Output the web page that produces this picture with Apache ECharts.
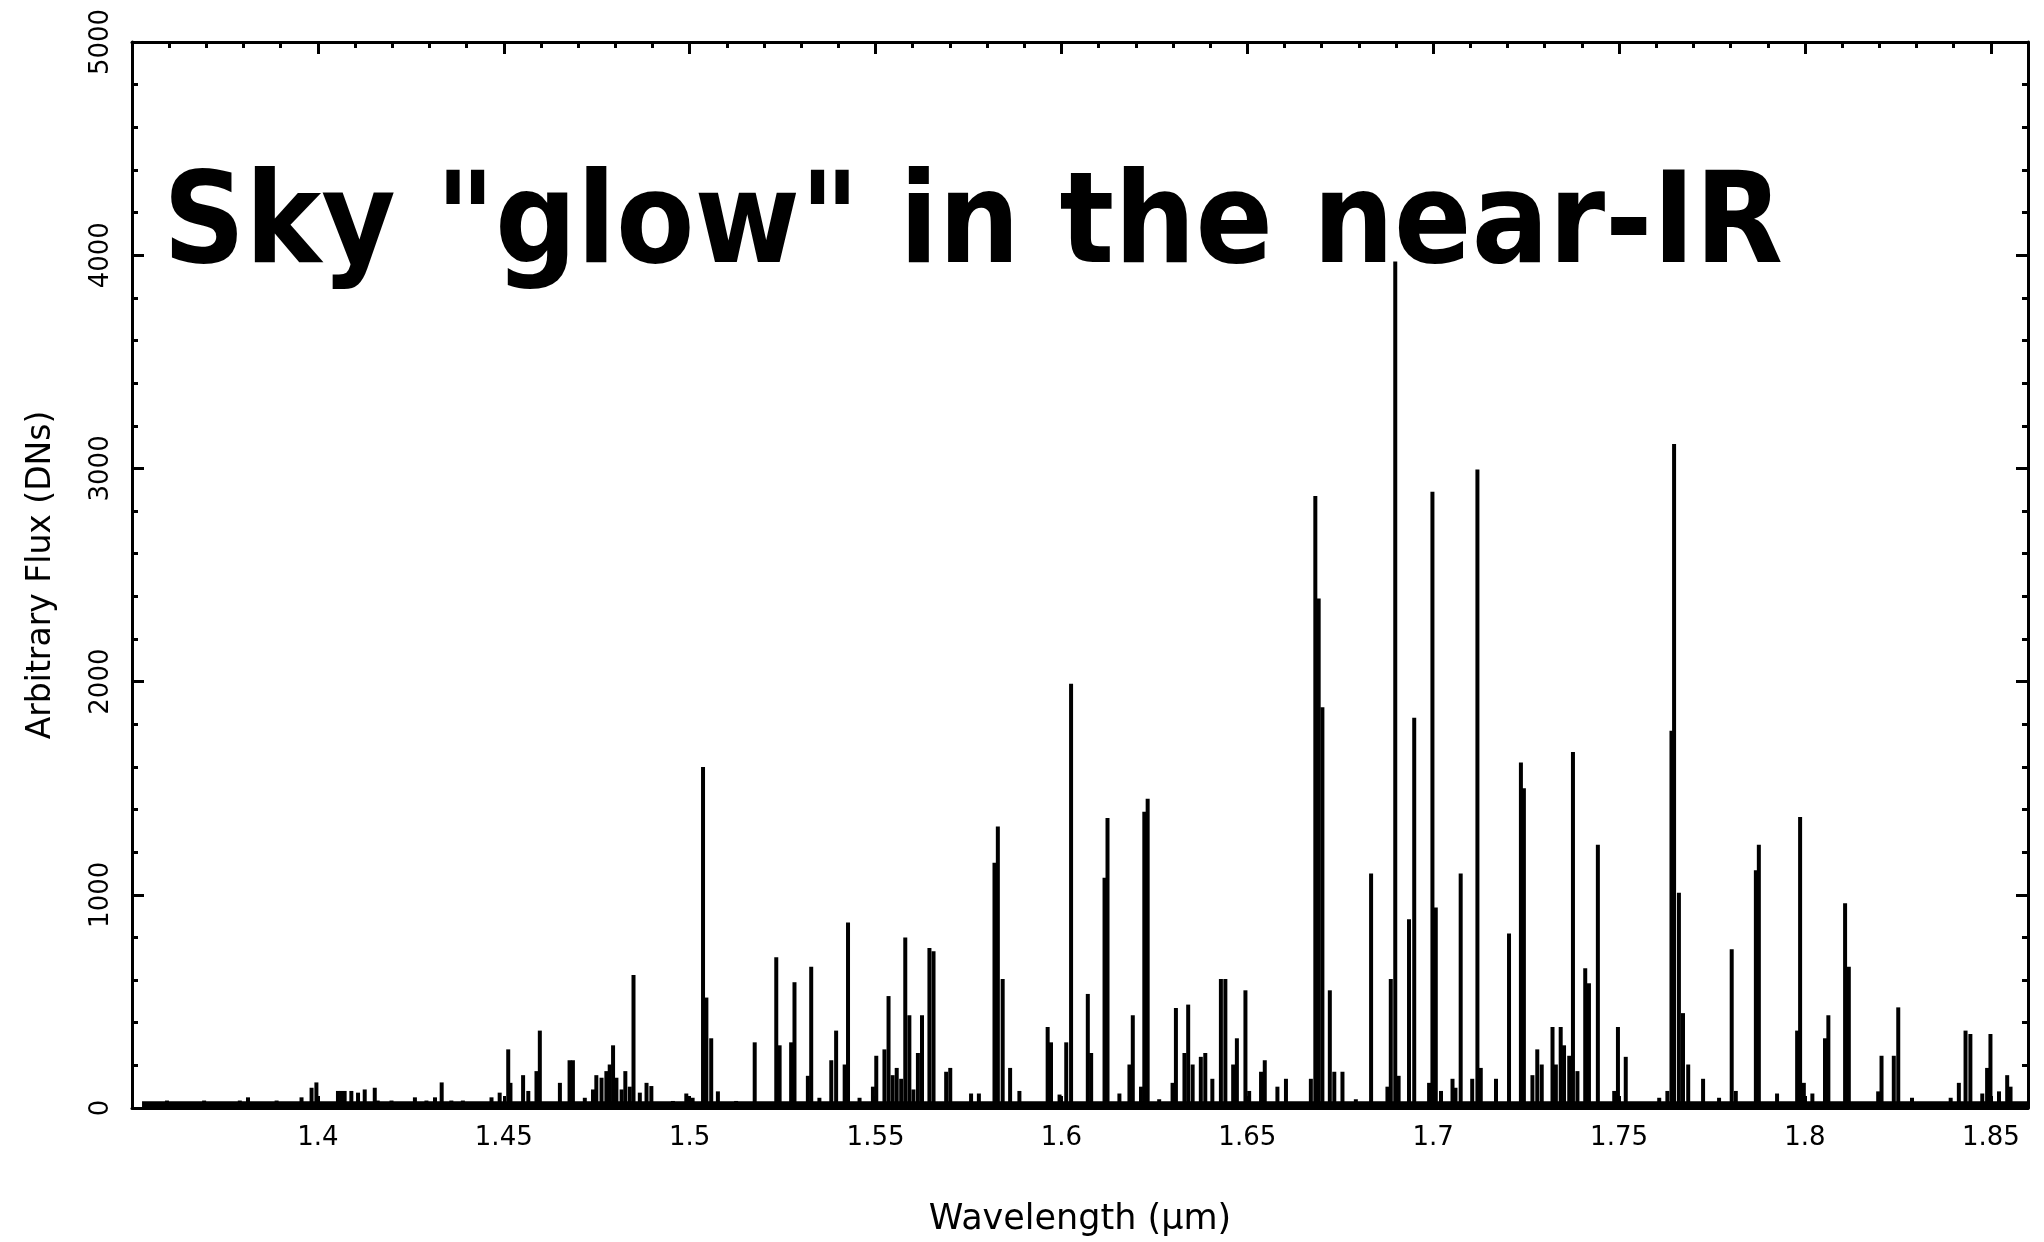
<!DOCTYPE html>
<html>
<head>
<meta charset="utf-8">
<script src="https://cdn.jsdelivr.net/npm/echarts@6/dist/echarts.min.js"></script>
<style>
html,body{margin:0;padding:0;background:#fff;}
#chart{width:2044px;height:1242px;}
</style>
</head>
<body>
<div id="chart"></div>
<script>
// Emission line wavelengths (micron) and peak fluxes (DN)
const lineWavelengths = [
  1.3594,1.3694,1.3790,1.3812,1.3889,1.3956,1.3983,1.3996,1.4054,1.4063,
  1.4072,1.4090,1.4108,1.4126,1.4153,1.4161,1.4198,1.4261,1.4292,1.4315,
  1.4333,1.4359,1.4390,1.4467,1.4489,1.4512,1.4518,1.4552,1.4566,1.4588,
  1.4597,1.4651,1.4677,1.4686,1.4718,1.4740,1.4749,1.4763,1.4776,1.4785,
  1.4794,1.4803,1.4817,1.4827,1.4839,1.4849,1.4866,1.4884,1.4897,1.4955,
  1.4991,1.5008,1.5036,1.5045,1.5058,1.5076,1.5125,1.5175,1.5233,1.5242,
  1.5273,1.5282,1.5318,1.5327,1.5349,1.5381,1.5394,1.5417,1.5426,1.5457,
  1.5493,1.5502,1.5524,1.5535,1.5546,1.5557,1.5569,1.5580,1.5591,1.5602,
  1.5614,1.5625,1.5645,1.5656,1.5690,1.5701,1.5757,1.5778,1.5820,1.5829,
  1.5842,1.5862,1.5887,1.5963,1.5972,1.5995,1.6013,1.6026,1.6071,1.6080,
  1.6116,1.6124,1.6156,1.6183,1.6192,1.6214,1.6223,1.6232,1.6263,1.6299,
  1.6308,1.6331,1.6341,1.6353,1.6375,1.6387,1.6406,1.6429,1.6441,1.6462,
  1.6472,1.6495,1.6505,1.6537,1.6547,1.6581,1.6604,1.6671,1.6683,1.6692,
  1.6702,1.6722,1.6734,1.6756,1.6792,1.6833,1.6877,1.6886,1.6898,1.6907,
  1.6935,1.6949,1.6989,1.6998,1.7007,1.7021,1.7052,1.7060,1.7074,1.7105,
  1.7119,1.7128,1.7169,1.7204,1.7236,1.7244,1.7267,1.7280,1.7292,1.7321,
  1.7330,1.7343,1.7352,1.7366,1.7376,1.7388,1.7409,1.7419,1.7443,1.7487,
  1.7497,1.7518,1.7608,1.7630,1.7641,1.7648,1.7661,1.7672,1.7686,1.7726,
  1.7769,1.7803,1.7814,1.7868,1.7876,1.7925,1.7979,1.7987,1.7997,1.8020,
  1.8054,1.8063,1.8108,1.8118,1.8197,1.8206,1.8239,1.8251,1.8288,1.8392,
  1.8414,1.8432,1.8445,1.8477,1.8490,1.8499,1.8522,1.8544,1.8553
];
const lineFluxes = [
  35,35,35,50,35,50,95,120,80,80,
  80,80,72,87,95,35,35,50,35,50,
  120,35,35,50,72,275,118,154,80,173,
  363,118,224,224,48,87,154,142,173,204,
  294,142,87,173,100,624,72,118,103,33,
  68,48,1600,518,327,78,33,308,707,294,
  308,590,151,663,48,224,363,204,870,48,
  100,245,275,525,154,188,137,800,435,87,
  258,435,750,735,170,188,68,68,1150,1320,
  605,188,80,380,308,63,308,1990,535,258,
  1080,1360,68,204,435,100,1390,1450,41,118,
  469,258,485,204,240,258,137,605,605,204,
  327,552,80,170,224,100,137,137,2870,2390,
  1880,552,170,170,41,1100,100,605,3970,151,
  885,1830,118,2890,940,80,137,95,1100,137,
  2995,188,137,819,1620,1500,154,275,204,380,
  204,380,294,245,1670,173,655,585,1235,80,
  380,240,48,80,1770,3115,1010,445,204,137,
  48,745,80,1115,1235,68,363,1365,118,68,
  327,435,960,663,78,245,245,472,48,48,
  118,363,347,68,188,347,78,154,100
];
// Continuum (baseline) level
const continuumWavelengths = [1.3527, 1.86];
const continuumFluxes = [18, 18];

// Axes
const xMin = 1.35, xMax = 1.86, xInterval = 0.05;
const yMin = 0, yMax = 5000, yInterval = 1000;

const titleText = 'Sky "glow" in the near-IR';
const xAxisName = 'Wavelength (\u03bcm)';
const yAxisName = 'Arbitrary Flux (DNs)';

const lineData = lineWavelengths.map((w, i) => [w, lineFluxes[i]]);
const contData = continuumWavelengths.map((w, i) => [w, continuumFluxes[i]]);

const axisCol = '#000';
const tickFont = 'DejaVu Sans';

function xAxisCfg(pos, showLabel) {
  return {
    type: 'value', position: pos, min: xMin, max: xMax, interval: xInterval,
    name: showLabel ? xAxisName : '',
    nameLocation: 'middle', nameGap: 94,
    nameTextStyle: {color: '#000', fontSize: 35, fontFamily: tickFont},
    axisLine: {show: true, onZero: false, lineStyle: {color: axisCol, width: 3}},
    axisTick: {show: true, inside: true, length: 12, lineStyle: {color: axisCol, width: 3}},
    minorTick: {show: true, splitNumber: 5, length: 6, lineStyle: {color: axisCol, width: 3}},
    axisLabel: {show: showLabel, margin: 17, color: '#000', fontSize: 26, fontFamily: tickFont,
      showMinLabel: false, showMaxLabel: false,
      formatter: v => String(+v.toFixed(2))},
    splitLine: {show: false}, minorSplitLine: {show: false}
  };
}
function yAxisCfg(pos, showLabel) {
  return {
    type: 'value', position: pos, min: yMin, max: yMax, interval: yInterval,
    name: showLabel ? yAxisName : '',
    nameLocation: 'middle', nameGap: 74, nameRotate: 90,
    nameTextStyle: {color: '#000', fontSize: 33, fontFamily: tickFont},
    axisLine: {show: true, onZero: false, lineStyle: {color: axisCol, width: 3}},
    axisTick: {show: true, inside: true, length: 12, lineStyle: {color: axisCol, width: 3}},
    minorTick: {show: true, splitNumber: 5, length: 6, lineStyle: {color: axisCol, width: 3}},
    axisLabel: {show: showLabel, rotate: 90, margin: 18, color: '#000', fontSize: 26, fontFamily: tickFont,
      formatter: v => String(Math.round(v))},
    splitLine: {show: false}, minorSplitLine: {show: false}
  };
}

const chart = echarts.init(document.getElementById('chart'), null, {renderer: 'canvas'});
chart.setOption({
  animation: false,
  backgroundColor: '#fff',
  title: {
    text: titleText, left: 158, top: 161,
    textStyle: {color: '#000', fontSize: 127, fontWeight: 'bold',
      fontFamily: '"DejaVu Sans Condensed", "DejaVu Sans"', lineHeight: 127}
  },
  grid: {left: 132, right: 16, top: 42, bottom: 125, containLabel: false},
  xAxis: [xAxisCfg('bottom', true), xAxisCfg('top', false)],
  yAxis: [yAxisCfg('left', true), yAxisCfg('right', false)],
  series: [
    {
      type: 'line', xAxisIndex: 0, yAxisIndex: 0, data: contData,
      symbol: 'none', lineStyle: {color: '#000', width: 6}, z: 2
    },
    {
      type: 'bar', xAxisIndex: 0, yAxisIndex: 0, data: lineData,
      barWidth: 4, itemStyle: {color: '#000'}, large: false, z: 3
    }
  ]
});
</script>
</body>
</html>
